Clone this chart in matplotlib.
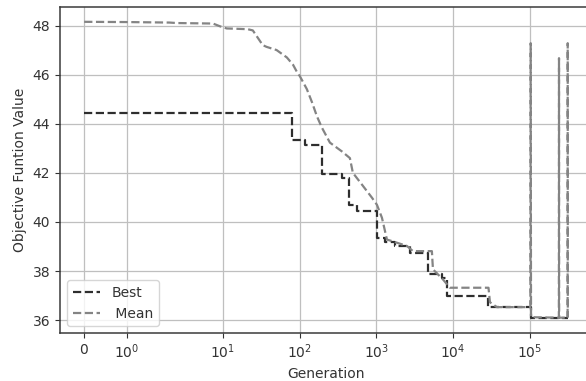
import matplotlib
matplotlib.use("Agg")
import matplotlib.pyplot as plt
from matplotlib.ticker import NullLocator, FixedLocator

# Best objective value per generation (step data)
best_gens = [0, 79, 117, 193, 352, 438, 558, 1017, 1294, 1746, 2740, 4755, 7100,
             8400, 28800, 105000, 314000]
best_vals = [44.45, 43.35, 43.12, 41.97, 41.80, 40.70, 40.45, 39.35, 39.18, 39.02,
             38.75, 37.87, 37.72, 36.97, 36.53, 36.08, 36.08]

# Mean objective value per generation
mean_gens = [0, 1, 2, 2.5, 7.4, 9.1, 11.2, 21, 24.5, 33, 37, 50, 68, 82, 95, 100,
             124, 145, 168, 195, 248, 356, 452, 494, 649, 875, 1017, 1183, 1375, 1596,
             2506, 3000, 5300, 5470, 7380, 9100, 29000, 30300, 37300, 102000, 103000,
             104000, 240000, 241000, 242000, 312000, 313000, 314000]
mean_vals = [48.15, 48.14, 48.12, 48.10, 48.08, 47.97, 47.88, 47.85, 47.80, 47.20,
             47.13, 47.00, 46.70, 46.40, 46.03, 45.95, 45.41, 44.87, 44.30, 43.84,
             43.23, 42.87, 42.60, 42.00, 41.52, 40.99, 40.70, 40.17, 39.28, 39.22,
             39.02, 38.81, 38.81, 38.07, 37.66, 37.32, 37.32, 36.73, 36.53, 36.53,
             47.28, 36.12, 36.10, 46.67, 36.10, 36.10, 47.28, 36.10]

xticks = [0, 1, 10, 100, 1000, 10000, 100000]
yticks = [36, 38, 40, 42, 44, 46, 48]

text_color = "#333333"
plt.rcParams.update({
    "font.family": "DejaVu Sans",
    "font.size": 10,
    "text.color": text_color,
    "axes.labelcolor": text_color,
    "xtick.color": text_color,
    "ytick.color": text_color,
})

fig = plt.figure(figsize=(5.86, 3.81), dpi=100)
ax = fig.add_axes([60 / 586, 48 / 381, 532 / 586, 326 / 381])

ax.plot(best_gens, best_vals, linestyle="--", color="#2e2e2e", linewidth=1.6,
        drawstyle="steps-post", label="Best")
ax.plot(mean_gens, mean_vals, linestyle="--", color="#848484", linewidth=1.6,
        label=" Mean")

ax.set_xscale("symlog")
ax.xaxis.set_major_locator(FixedLocator(xticks))
ax.xaxis.set_minor_locator(NullLocator())
ax.set_yticks(yticks)

ax.grid(True, color="#bfbfbf", linewidth=0.9)
ax.set_axisbelow(True)
for side in ["left", "bottom", "top", "right"]:
    ax.spines[side].set_color("#3a3a3a")
    ax.spines[side].set_linewidth(1.1)

ax.set_xlabel("Generation")
ax.set_ylabel("Objective Funtion Value")
ax.legend(loc="lower left")

fig.savefig("out.png", dpi=100)
